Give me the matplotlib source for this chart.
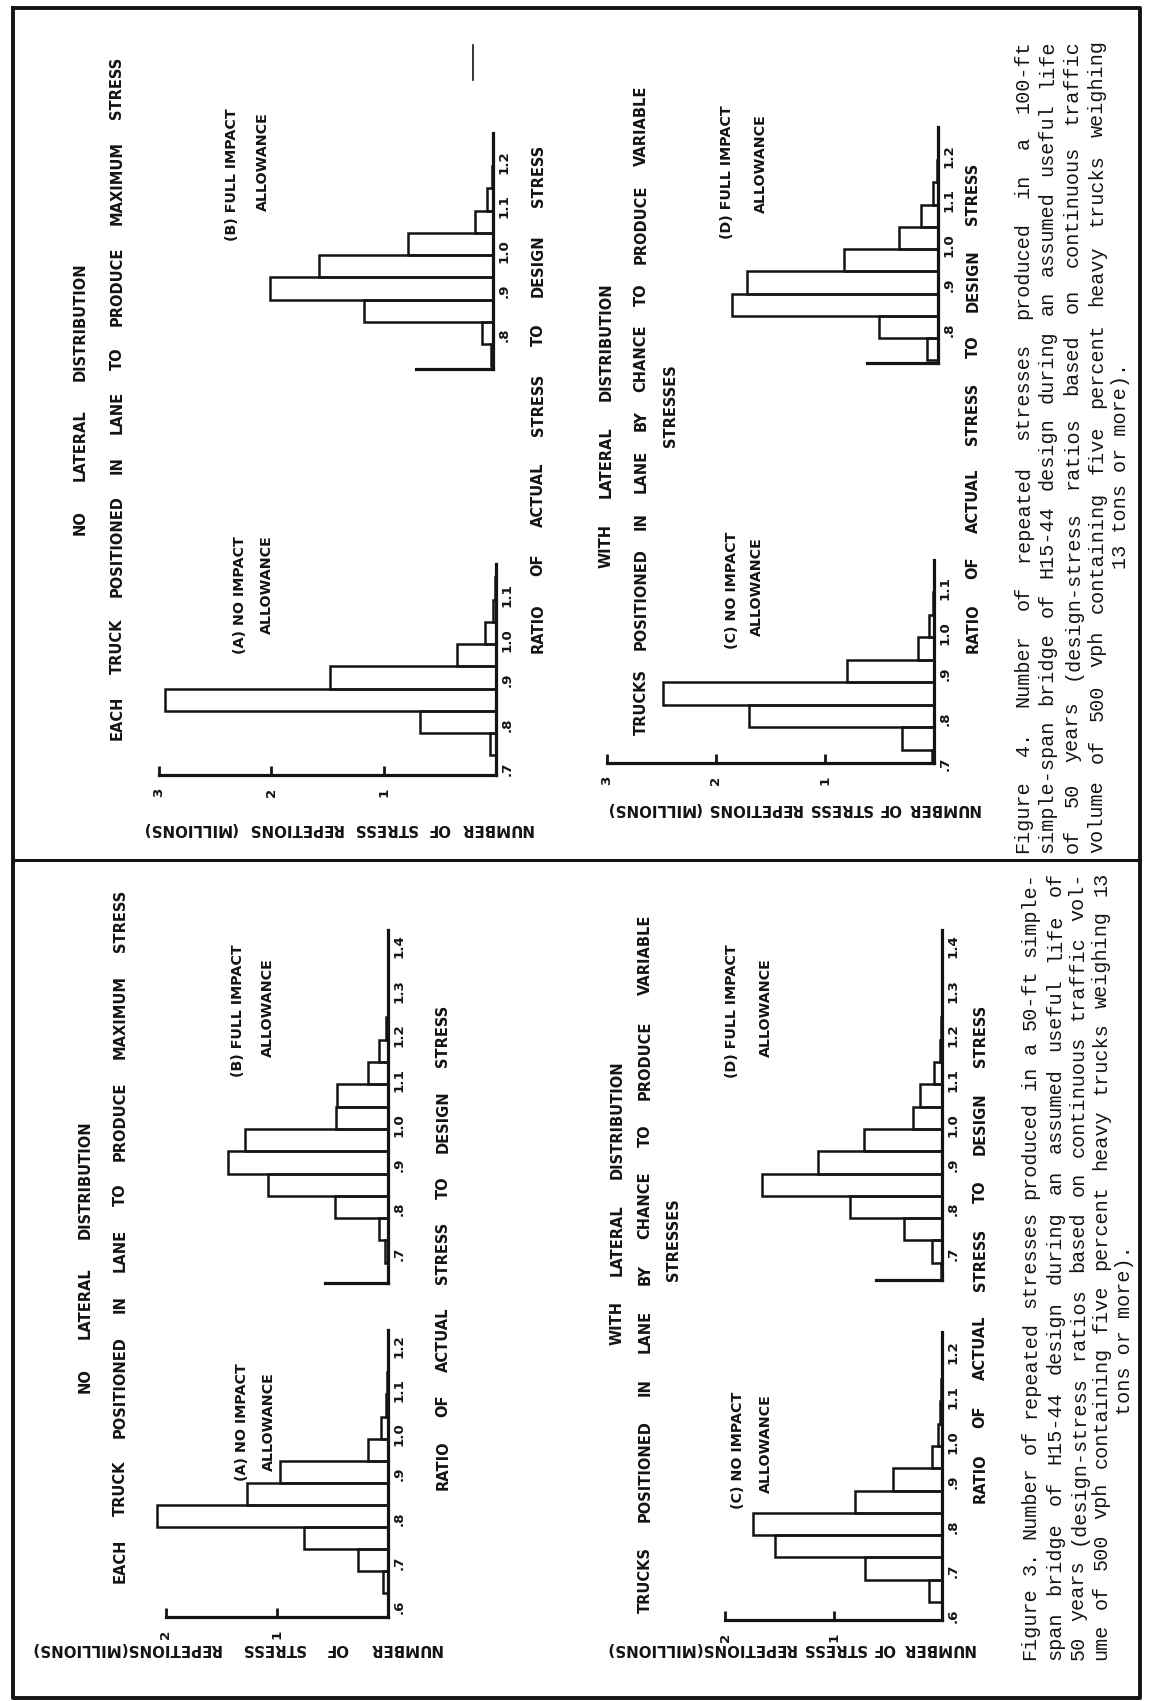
import matplotlib
matplotlib.use("Agg")
import matplotlib.pyplot as plt
from matplotlib.lines import Line2D

W, H, DPI = 1153, 1701, 100
INK = "#141414"
MONO = "Liberation Mono"

plt.rcParams.update({
    "font.family": "DejaVu Sans",
    "font.weight": "bold",
})

TITLE = 10.5
SUB = 10.3
YLAB = 10.8
TICK = 9.6

# --- Data: bar centres (ratio of actual to design stress) and repetitions (millions) ---

# Figure 3 - 50-ft span
f3a_ratio = [0.65, 0.70, 0.75, 0.80, 0.85, 0.90, 0.95, 1.00, 1.05, 1.10]
f3a_reps = [0.045, 0.27, 0.76, 2.08, 1.27, 0.97, 0.18, 0.06, 0.02, 0.01]
f3b_ratio = [0.70, 0.75, 0.80, 0.85, 0.90, 0.95, 1.00, 1.05, 1.10, 1.15, 1.20]
f3b_reps = [0.03, 0.08, 0.48, 1.08, 1.44, 1.29, 0.47, 0.46, 0.18, 0.08, 0.015]
f3c_ratio = [0.65, 0.70, 0.75, 0.80, 0.85, 0.90, 0.95, 1.00, 1.05, 1.10]
f3c_reps = [0.12, 0.71, 1.54, 1.74, 0.80, 0.45, 0.09, 0.04, 0.02, 0.01]
f3d_ratio = [0.65, 0.70, 0.75, 0.80, 0.85, 0.90, 0.95, 1.00, 1.05, 1.10, 1.15, 1.20]
f3d_reps = [0.01, 0.09, 0.35, 0.85, 1.66, 1.14, 0.72, 0.27, 0.20, 0.07, 0.02, 0.01]

# Figure 4 - 100-ft span
f4a_ratio = [0.75, 0.80, 0.85, 0.90, 0.95, 1.00, 1.05, 1.10]
f4a_reps = [0.05, 0.68, 2.95, 1.48, 0.35, 0.10, 0.03, 0.01]
f4b_ratio = [0.75, 0.80, 0.85, 0.90, 0.95, 1.00, 1.05, 1.10, 1.15]
f4b_reps = [0.02, 0.095, 1.15, 1.99, 1.55, 0.76, 0.16, 0.05, 0.01]
f4c_ratio = [0.70, 0.75, 0.80, 0.85, 0.90, 0.95, 1.00, 1.05]
f4c_reps = [0.02, 0.29, 1.70, 2.49, 0.80, 0.15, 0.05, 0.01]
f4d_ratio = [0.75, 0.80, 0.85, 0.90, 0.95, 1.00, 1.05, 1.10, 1.15]
f4d_reps = [0.10, 0.54, 1.89, 1.75, 0.86, 0.36, 0.16, 0.045, 0.01]

# tick positions along the ratio axis and the repetitions axis
ratio_ticks_f4a = [0.7, 0.8, 0.9, 1.0, 1.1]
ratio_ticks_f4b = [0.8, 0.9, 1.0, 1.1, 1.2]
ratio_ticks_f3a = [0.6, 0.7, 0.8, 0.9, 1.0, 1.1, 1.2]
ratio_ticks_f3b = [0.7, 0.8, 0.9, 1.0, 1.1, 1.2, 1.3, 1.4]
rep_ticks_f4 = [1, 2, 3]
rep_ticks_f3 = [1, 2]

# --- Text ---
ratio_words = ["RATIO", "OF", "ACTUAL", "STRESS", "TO", "DESIGN", "STRESS"]
rep_words_f4 = ["NUMBER", "OF", "STRESS", "REPETIONS", "(MILLIONS)"]
rep_words_f3 = ["NUMBER", "OF", "STRESS", "REPETIONS(MILLIONS)"]
head_no = ["NO", "LATERAL", "DISTRIBUTION"]
head_each = ["EACH", "TRUCK", "POSITIONED", "IN", "LANE", "TO", "PRODUCE", "MAXIMUM", "STRESS"]
head_with = ["WITH", "LATERAL", "DISTRIBUTION"]
head_trucks = ["TRUCKS", "POSITIONED", "IN", "LANE", "BY", "CHANCE", "TO", "PRODUCE", "VARIABLE"]

fig4_caption = [
    "Figure 4.  Number of  repeated  stresses  produced in a 100-ft",
    "simple-span bridge of H15-44 design during an assumed useful life",
    "of 50 years (design-stress  ratios based on continuous  traffic",
    "volume of 500 vph containing five percent heavy trucks weighing",
    "13 tons or more).",
]
fig3_caption = [
    "Figure 3. Number of repeated stresses produced in a 50-ft simple-",
    "span  bridge of H15-44  design during an assumed useful life of",
    "50 years (design-stress ratios based on continuous traffic vol-",
    "ume of 500 vph containing five percent heavy trucks weighing 13",
    "tons or more).",
]

fig = plt.figure(figsize=(W / DPI, H / DPI), dpi=DPI)
fig.patch.set_facecolor("white")
renderer = fig.canvas.get_renderer()


def fx(x):
    return x / W


def fy(y):
    return 1 - y / H


def run_up(words, x, y0, y1, size=TITLE, family=None, weight="bold"):
    """Set words bottom-to-top along column x, from pixel row y0 up to y1."""
    kw = dict(rotation=90, rotation_mode="anchor", ha="left", va="center",
              fontsize=size, fontweight=weight, color=INK)
    if family:
        kw["family"] = family
    texts = [fig.text(0, 0, w, **kw) for w in words]
    lens = [t.get_window_extent(renderer).height for t in texts]
    gap = ((y0 - y1) - sum(lens)) / max(len(words) - 1, 1)
    pos = y0
    for t, n in zip(texts, lens):
        t.set_position((fx(x), fy(pos)))
        pos -= n + gap


def center_up(s, x, y, size=SUB, family=None, weight="bold"):
    kw = dict(rotation=90, rotation_mode="anchor", ha="center", va="center",
              fontsize=size, fontweight=weight, color=INK)
    if family:
        kw["family"] = family
    fig.text(fx(x), fy(y), s, **kw)


def run_left(words, y, x0, x1, size=YLAB):
    """Upside-down label reading right-to-left, from pixel column x0 to x1."""
    kw = dict(rotation=180, rotation_mode="anchor", ha="left", va="center",
              fontsize=size, fontweight="bold", color=INK)
    texts = [fig.text(0, 0, w, **kw) for w in words]
    lens = [t.get_window_extent(renderer).width for t in texts]
    gap = ((x0 - x1) - sum(lens)) / max(len(words) - 1, 1)
    pos = x0
    for t, n in zip(texts, lens):
        t.set_position((fx(pos), fy(y)))
        pos -= n + gap


def rule(xs, ys, lw):
    fig.add_artist(Line2D([fx(x) for x in xs], [fy(y) for y in ys],
                          color=INK, lw=lw, transform=fig.transFigure))


def ratio_label(t):
    s = f"{t:.1f}"
    return s[1:] if s.startswith("0") else s


def histogram(ratio, reps, rticks, vticks, bx, k, y80, s, r_bot, r_top, axis_len):
    # bx: pixel column of the zero line, k: pixels per million,
    # y80: pixel row of ratio 0.8, s: pixels per unit ratio
    v_left = max(max(reps), axis_len) + 0.3
    r_hi = r_top + 0.03
    left = bx - v_left * k
    top = y80 - (r_hi - 0.8) * s
    bottom = y80 - (r_bot - 0.8) * s
    ax = fig.add_axes([left / W, 1 - bottom / H, v_left * k / W, (bottom - top) / H])
    ax.set_xlim(v_left, 0)
    ax.set_ylim(r_bot, r_hi)
    ax.patch.set_visible(False)
    ax.barh(ratio, reps, height=0.05, fill=False, edgecolor=INK, linewidth=1.8)
    for side in ("top", "left"):
        ax.spines[side].set_visible(False)
    ax.spines["right"].set_bounds(r_bot, r_top)
    ax.spines["bottom"].set_bounds(0, axis_len)
    for side in ("right", "bottom"):
        ax.spines[side].set_linewidth(2.3)
        ax.spines[side].set_color(INK)
    ax.yaxis.set_ticks_position("right")
    ax.set_yticks(rticks)
    ax.set_yticklabels([ratio_label(t) for t in rticks])
    ax.tick_params(axis="y", length=0, pad=3.0, labelsize=TICK, labelrotation=90,
                   labelcolor=INK)
    ax.set_xticks(vticks)
    ax.set_xticklabels([str(v) for v in vticks])
    ax.tick_params(axis="x", direction="in", length=6.5, width=2.0, pad=9.0,
                   labelsize=TICK, labelrotation=90, color=INK, labelcolor=INK)
    return ax


# --- Frame ---
rule([13, 1140, 1140, 13, 13], [8, 8, 1698, 1698, 8], 2.8)
rule([13, 1140], [860, 860], 2.2)
rule([473, 473], [45, 80], 1.2)

# --- Figure 4 (upper half) ---
histogram(f4a_ratio, f4a_reps, ratio_ticks_f4a, rep_ticks_f4,
          496, 112.3, 722, 445, 0.68, 1.155, 3.0)
histogram(f4b_ratio, f4b_reps, ratio_ticks_f4b, [],
          493, 112.3, 333, 445, 0.72, 1.25, 0.69)
histogram(f4c_ratio, f4c_reps, ratio_ticks_f4a, rep_ticks_f4,
          934, 109, 716, 450, 0.696, 1.147, 3.0)
histogram(f4d_ratio, f4d_reps, ratio_ticks_f4b, [],
          938, 109, 327, 445, 0.72, 1.25, 0.65)

run_up(head_no, 80, 535, 262)
run_up(head_each, 117, 740, 57)
center_up("(A) NO IMPACT", 240, 595)
center_up("ALLOWANCE", 267, 585)
center_up("(B) FULL IMPACT", 232, 175)
center_up("ALLOWANCE", 263, 162)
run_up(ratio_words, 538, 653, 145)
run_left(rep_words_f4, 828, 533, 142)

run_up(head_with, 606, 568, 282)
run_up(head_trucks, 641, 735, 86)
center_up("STRESSES", 671, 406, size=TITLE)
center_up("(C) NO IMPACT", 732, 590)
center_up("ALLOWANCE", 757, 587)
center_up("(D) FULL IMPACT", 727, 172)
center_up("ALLOWANCE", 761, 164)
run_up(ratio_words, 973, 653, 163)
run_left(rep_words_f4, 808, 980, 605)

# --- Figure 3 (lower half) ---
histogram(f3a_ratio, f3a_reps, ratio_ticks_f3a, rep_ticks_f3,
          388, 111, 1516, 442, 0.571, 1.22, 2.0)
histogram(f3b_ratio, f3b_reps, ratio_ticks_f3b, [],
          388, 111, 1207, 446, 0.63, 1.42, 0.57)
histogram(f3c_ratio, f3c_reps, ratio_ticks_f3a, rep_ticks_f3,
          942, 108.5, 1524, 446, 0.585, 1.23, 2.0)
histogram(f3d_ratio, f3d_reps, ratio_ticks_f3b, [],
          942, 108.5, 1207, 446, 0.636, 1.42, 0.61)

run_up(head_no, 85, 1393, 1120)
run_up(head_each, 120, 1583, 890)
center_up("(A) NO IMPACT", 242, 1422)
center_up("ALLOWANCE", 269, 1422)
center_up("(B) FULL IMPACT", 238, 1011)
center_up("ALLOWANCE", 268, 1008)
run_up(ratio_words, 443, 1490, 1005)
run_left(rep_words_f3, 1648, 442, 30)

run_up(head_with, 617, 1345, 1060)
run_up(head_trucks, 645, 1613, 915)
center_up("STRESSES", 673, 1240, size=TITLE)
center_up("(C) NO IMPACT", 738, 1450)
center_up("ALLOWANCE", 766, 1444)
center_up("(D) FULL IMPACT", 732, 1011)
center_up("ALLOWANCE", 766, 1008)
run_up(ratio_words, 980, 1503, 1005)
run_left(rep_words_f3, 1648, 975, 605)

# --- Typed captions, justified line by line ---
for line, x in zip(fig4_caption[:-1], [1023, 1047, 1072, 1097]):
    run_up(line.split(), x, 853, 40, size=14.5, family=MONO, weight="normal")
center_up(fig4_caption[-1], 1121, 466, size=14.5, family=MONO, weight="normal")

for line, x in zip(fig3_caption[:-1], [1030, 1055, 1078, 1101]):
    run_up(line.split(), x, 1660, 872, size=14.5, family=MONO, weight="normal")
center_up(fig3_caption[-1], 1125, 1330, size=14.5, family=MONO, weight="normal")

fig.savefig("out.png", dpi=DPI, facecolor="white")
